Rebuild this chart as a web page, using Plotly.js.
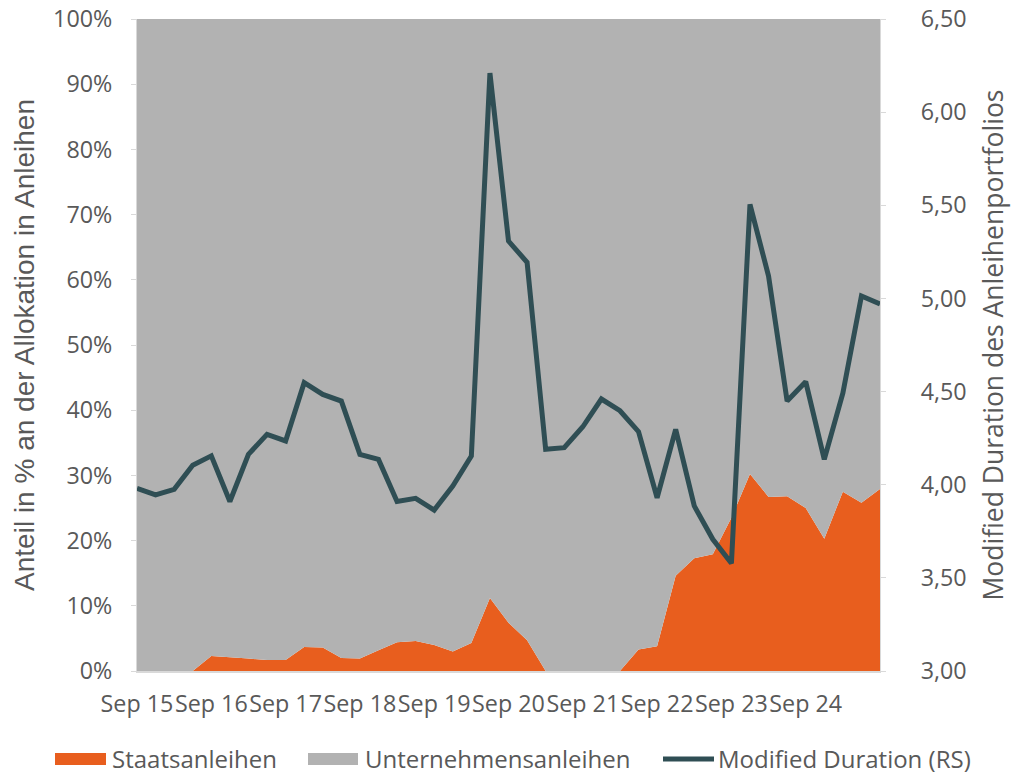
<!DOCTYPE html>
<html>
<head>
<meta charset="utf-8">
<script src="https://cdn.plot.ly/plotly-3.0.1.min.js"></script>
<style>html,body{margin:0;padding:0;background:#fff;}#chart{width:1011px;height:775px;}</style>
</head>
<body>
<div id="chart"></div>
<script>
// Quarter-end labels, Sep 15 .. Sep 25
const quarters = [
  "Sep 15","Dez 15","Mär 16","Jun 16","Sep 16","Dez 16","Mär 17","Jun 17",
  "Sep 17","Dez 17","Mär 18","Jun 18","Sep 18","Dez 18","Mär 19","Jun 19",
  "Sep 19","Dez 19","Mär 20","Jun 20","Sep 20","Dez 20","Mär 21","Jun 21",
  "Sep 21","Dez 21","Mär 22","Jun 22","Sep 22","Dez 22","Mär 23","Jun 23",
  "Sep 23","Dez 23","Mär 24","Jun 24","Sep 24","Dez 24","Mär 25","Jun 25","Sep 25"
];
const tickLabels = ["Sep 15","Sep 16","Sep 17","Sep 18","Sep 19","Sep 20","Sep 21","Sep 22","Sep 23","Sep 24"];

// Share of government bonds (%)
const staatsanleihen = [
  0, 0, 0, 0, 2.3, 2.1, 1.9, 1.7, 1.7, 3.7,
  3.6, 2.0, 1.9, 3.2, 4.4, 4.6, 4.0, 3.0, 4.3, 11.2,
  7.4, 4.7, 0, 0, 0, 0, 0, 3.3, 3.8, 14.6,
  17.3, 17.9, 23.5, 30.2, 26.7, 26.8, 25.0, 20.3, 27.5, 25.8,
  27.9
];
// Share of corporate bonds (%)
const unternehmensanleihen = [
  100, 100, 100, 100, 97.7, 97.9, 98.1, 98.3, 98.3, 96.3,
  96.4, 98.0, 98.1, 96.8, 95.6, 95.4, 96.0, 97.0, 95.7, 88.8,
  92.6, 95.3, 100, 100, 100, 100, 100, 96.7, 96.2, 85.4,
  82.7, 82.1, 76.5, 69.8, 73.3, 73.2, 75.0, 79.7, 72.5, 74.2,
  72.1
];
// Modified duration of bond portfolio (right scale)
const modifiedDuration = [
  3.98, 3.945, 3.975, 4.105, 4.155, 3.91, 4.163, 4.27, 4.235, 4.548,
  4.485, 4.449, 4.163, 4.136, 3.91, 3.927, 3.864, 3.993, 4.154, 6.21,
  5.308, 5.194, 4.19, 4.199, 4.311, 4.46, 4.397, 4.285, 3.93, 4.297,
  3.886, 3.707, 3.578, 5.505, 5.12, 4.449, 4.553, 4.136, 4.491, 5.013,
  4.97
];

const seriesNames = ['Staatsanleihen', 'Unternehmensanleihen', 'Modified Duration (RS)'];
const seriesColors = ['#E85E1E', '#B2B2B2', '#2F4E54'];

const txt = '#595959';
const OS = '"Open Sans", "Noto Sans", sans-serif';
const tickFont = {family: OS, size: 23.3, color: txt};
const legFont = {family: OS, size: 24, color: txt};

const data = [
  {x: quarters, y: staatsanleihen, name: seriesNames[0], type: 'scatter', mode: 'none',
   stackgroup: 'one', fillcolor: seriesColors[0], line: {width: 0}, hoverinfo: 'skip'},
  {x: quarters, y: unternehmensanleihen, name: seriesNames[1], type: 'scatter', mode: 'none',
   stackgroup: 'one', fillcolor: seriesColors[1], line: {width: 0}, hoverinfo: 'skip'},
  {x: quarters, y: modifiedDuration, name: seriesNames[2], type: 'scatter', mode: 'lines',
   yaxis: 'y2', line: {color: seriesColors[2], width: 5}}
];

// legend drawn manually (pixel -> paper conversion)
const L = 137, R = 880, T = 19, B = 671;
const px = v => (v - L) / (R - L);
const py = v => (B - v) / (B - T);
const legY = 758;
const shapes = [
  {type: 'rect', xref: 'paper', yref: 'paper', x0: px(55), x1: px(106), y0: py(753), y1: py(765),
   fillcolor: seriesColors[0], line: {width: 0}},
  {type: 'rect', xref: 'paper', yref: 'paper', x0: px(308), x1: px(358), y0: py(753), y1: py(765),
   fillcolor: seriesColors[1], line: {width: 0}},
  {type: 'line', xref: 'paper', yref: 'paper', x0: px(663), x1: px(714), y0: py(759), y1: py(759),
   line: {color: seriesColors[2], width: 5}}
];
const legX = [111, 364, 717];
const annotations = seriesNames.map((n, i) => ({
  text: n, xref: 'paper', yref: 'paper', x: px(legX[i]), y: py(legY), xanchor: 'left', yanchor: 'middle',
  showarrow: false, font: legFont, borderpad: 0
}));

const layout = {
  width: 1011, height: 775,
  margin: {l: L, r: 1011 - R, t: T, b: 775 - B, pad: 0},
  paper_bgcolor: '#ffffff', plot_bgcolor: '#ffffff',
  separators: ',.',
  font: tickFont,
  showlegend: false,
  shapes: shapes,
  annotations: annotations,
  xaxis: {type: 'category', range: [0, 40], tickvals: tickLabels, ticktext: tickLabels, tickangle: 0,
          showgrid: false, zeroline: false, showline: true, linecolor: '#D9D9D9', linewidth: 1.5,
          ticks: '', tickfont: tickFont, ticklabelstandoff: 12, fixedrange: true},
  yaxis: {range: [0, 100], dtick: 10, ticksuffix: '%', showgrid: false, zeroline: false,
          showline: true, linecolor: '#D9D9D9', linewidth: 1, ticks: 'outside', ticklen: 5,
          tickcolor: '#D9D9D9', tickfont: tickFont, ticklabelstandoff: 14,
          title: {text: 'Anteil in % an der Allokation in Anleihen',
                  font: {family: '"Liberation Sans", Arial, sans-serif', size: 28, color: txt}, standoff: 10}},
  yaxis2: {overlaying: 'y', side: 'right', range: [3, 6.5], dtick: 0.5, tickformat: '.2f',
           showgrid: false, zeroline: false, showline: true, linecolor: '#D9D9D9', linewidth: 1,
           ticks: 'outside', ticklen: 5, tickcolor: '#D9D9D9', tickfont: tickFont, ticklabelstandoff: 30,
           title: {text: 'Modified Duration des Anleihenportfolios',
                   font: {family: OS, size: 26.5, color: txt}, standoff: 20}}
};

Plotly.newPlot('chart', data, layout, {displayModeBar: false, staticPlot: true});
</script>
</body>
</html>
